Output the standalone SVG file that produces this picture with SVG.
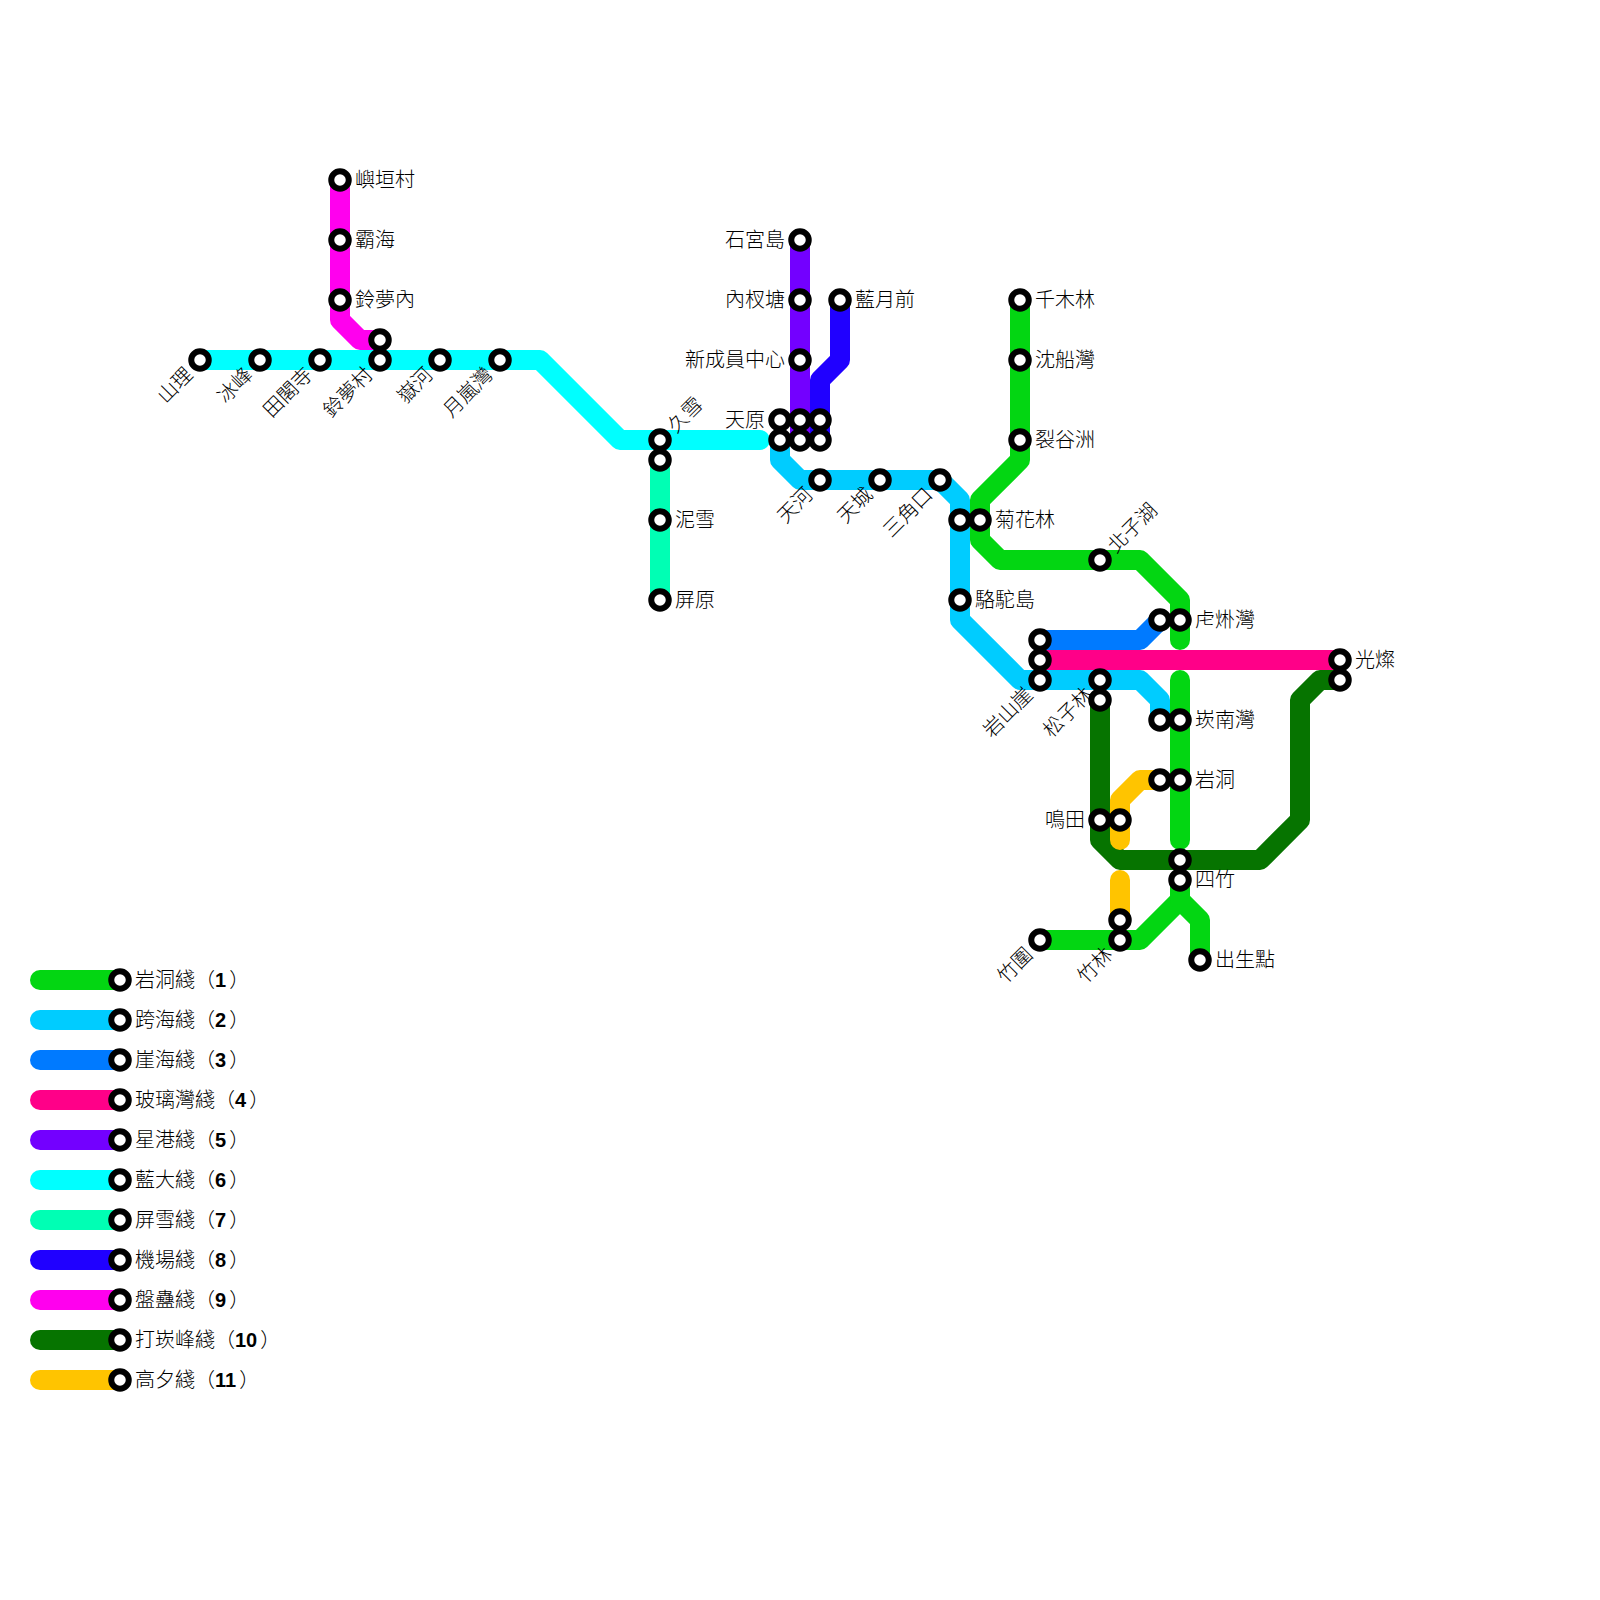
<svg xmlns="http://www.w3.org/2000/svg" width="1600" height="1600" viewBox="0 0 1600 1600">
<style>
text{font-family:"Liberation Sans","Noto Sans CJK TC",sans-serif;font-size:20px;font-weight:300;fill:#000;dominant-baseline:central}
.e{text-anchor:end}
.l{fill:none;stroke-width:20;stroke-linecap:round;stroke-linejoin:round}
.s{fill:#fff;stroke:#000;stroke-width:6}
.c1{stroke:#03d612}.c2{stroke:#00ccff}.c3{stroke:#007aff}.c4{stroke:#ff0088}.c5{stroke:#7300ff}.c6{stroke:#00ffff}.c7{stroke:#00ffb4}.c8{stroke:#2000ff}.c9{stroke:#ff00ee}.c10{stroke:#067400}.c11{stroke:#ffc400}
.n{font-family:"Liberation Sans",Arial,sans-serif;font-weight:bold}
</style>
<defs><circle id="st" class="s" r="8.75"/></defs>
<g id="connectors">
<path class="l c1" d="M1020 300V460L980 500V540L1000 560H1140L1180 600V640"/>
<path class="l c1" d="M1180 680V840"/>
<path class="l c1" d="M1040 940H1140L1180 900V880"/>
<path class="l c1" d="M1180 900L1200 920V960"/>
<path class="l c2" d="M780 440V460L800 480H940L960 500V620L1020 680H1140L1160 700V720"/>
<path class="l c3" d="M1040 640H1140L1160 620"/>
<path class="l c4" d="M1040 660H1340"/>
<path class="l c5" d="M800 240V440"/>
<path class="l c6" d="M200 360H540L620 440H760"/>
<path class="l c7" d="M660 460V600"/>
<path class="l c8" d="M840 300V360L820 380V440"/>
<path class="l c9" d="M340 180V320L360 340H380"/>
<path class="l c10" d="M1340 680H1320L1300 700V820L1260 860H1120L1100 840V700"/>
<path class="l c11" d="M1160 780H1140L1120 800V840"/>
<path class="l c11" d="M1120 880V920"/>
</g>
<g id="legend-lines">
<path class="l c1" d="M40 980H120"/><path class="l c2" d="M40 1020H120"/><path class="l c3" d="M40 1060H120"/><path class="l c4" d="M40 1100H120"/><path class="l c5" d="M40 1140H120"/><path class="l c6" d="M40 1180H120"/><path class="l c7" d="M40 1220H120"/><path class="l c8" d="M40 1260H120"/><path class="l c9" d="M40 1300H120"/><path class="l c10" d="M40 1340H120"/><path class="l c11" d="M40 1380H120"/>
</g>
<g id="stations">
<g id="n1"><use href="#st" x="340" y="180"/><text x="355" y="180">嶼垣村</text></g>
<g id="n2"><use href="#st" x="340" y="240"/><text x="355" y="240">霸海</text></g>
<g id="n3"><use href="#st" x="340" y="300"/><text x="355" y="300">鈴夢內</text></g>
<g id="n4"><use href="#st" x="380" y="340"/></g>
<g id="n5"><use href="#st" x="200" y="360"/><text class="e" transform="translate(189 371) rotate(-45)">山理</text></g>
<g id="n6"><use href="#st" x="260" y="360"/><text class="e" transform="translate(249 371) rotate(-45)">冰峰</text></g>
<g id="n7"><use href="#st" x="320" y="360"/><text class="e" transform="translate(309 371) rotate(-45)">田閣寺</text></g>
<g id="n8"><use href="#st" x="380" y="360"/><text class="e" transform="translate(369 371) rotate(-45)">鈴夢村</text></g>
<g id="n9"><use href="#st" x="440" y="360"/><text class="e" transform="translate(429 371) rotate(-45)">嶽河</text></g>
<g id="n10"><use href="#st" x="500" y="360"/><text class="e" transform="translate(489 371) rotate(-45)">月嵐灣</text></g>
<g id="n11"><use href="#st" x="660" y="440"/><text transform="translate(671 429) rotate(-45)">久雪</text></g>
<g id="n12"><use href="#st" x="660" y="460"/></g>
<g id="n13"><use href="#st" x="660" y="520"/><text x="675" y="520">泥雪</text></g>
<g id="n14"><use href="#st" x="660" y="600"/><text x="675" y="600">屏原</text></g>
<g id="n15"><use href="#st" x="800" y="240"/><text class="e" x="785" y="240">石宮島</text></g>
<g id="n16"><use href="#st" x="800" y="300"/><text class="e" x="785" y="300">內杈塘</text></g>
<g id="n17"><use href="#st" x="800" y="360"/><text class="e" x="785" y="360">新成員中心</text></g>
<g id="n18"><use href="#st" x="840" y="300"/><text x="855" y="300">藍月前</text></g>
<g id="n19"><use href="#st" x="780" y="420"/><text class="e" x="765" y="420">天原</text></g>
<g id="n20"><use href="#st" x="800" y="420"/></g>
<g id="n21"><use href="#st" x="820" y="420"/></g>
<g id="n22"><use href="#st" x="780" y="440"/></g>
<g id="n23"><use href="#st" x="800" y="440"/></g>
<g id="n24"><use href="#st" x="820" y="440"/></g>
<g id="n25"><use href="#st" x="820" y="480"/><text class="e" transform="translate(809 491) rotate(-45)">天河</text></g>
<g id="n26"><use href="#st" x="880" y="480"/><text class="e" transform="translate(869 491) rotate(-45)">天城</text></g>
<g id="n27"><use href="#st" x="940" y="480"/><text class="e" transform="translate(929 491) rotate(-45)">三角口</text></g>
<g id="n28"><use href="#st" x="960" y="520"/></g>
<g id="n29"><use href="#st" x="980" y="520"/><text x="995" y="520">菊花林</text></g>
<g id="n30"><use href="#st" x="960" y="600"/><text x="975" y="600">駱駝島</text></g>
<g id="n31"><use href="#st" x="1020" y="300"/><text x="1035" y="300">千木林</text></g>
<g id="n32"><use href="#st" x="1020" y="360"/><text x="1035" y="360">沈船灣</text></g>
<g id="n33"><use href="#st" x="1020" y="440"/><text x="1035" y="440">裂谷洲</text></g>
<g id="n34"><use href="#st" x="1100" y="560"/><text transform="translate(1111 549) rotate(-45)">北子湖</text></g>
<g id="n35"><use href="#st" x="1160" y="620"/></g>
<g id="n36"><use href="#st" x="1180" y="620"/><text x="1195" y="620">虍烞灣</text></g>
<g id="n37"><use href="#st" x="1040" y="640"/></g>
<g id="n38"><use href="#st" x="1040" y="660"/></g>
<g id="n39"><use href="#st" x="1040" y="680"/><text class="e" transform="translate(1029 691) rotate(-45)">岩山崖</text></g>
<g id="n40"><use href="#st" x="1100" y="680"/><text class="e" transform="translate(1089 691) rotate(-45)">松子林</text></g>
<g id="n41"><use href="#st" x="1100" y="700"/></g>
<g id="n42"><use href="#st" x="1160" y="720"/></g>
<g id="n43"><use href="#st" x="1180" y="720"/><text x="1195" y="720">崁南灣</text></g>
<g id="n44"><use href="#st" x="1340" y="660"/><text x="1355" y="660">光燦</text></g>
<g id="n45"><use href="#st" x="1340" y="680"/></g>
<g id="n46"><use href="#st" x="1160" y="780"/></g>
<g id="n47"><use href="#st" x="1180" y="780"/><text x="1195" y="780">岩洞</text></g>
<g id="n48"><use href="#st" x="1100" y="820"/><text class="e" x="1085" y="820">鳴田</text></g>
<g id="n49"><use href="#st" x="1120" y="820"/></g>
<g id="n50"><use href="#st" x="1180" y="860"/></g>
<g id="n51"><use href="#st" x="1180" y="880"/><text x="1195" y="880">四竹</text></g>
<g id="n52"><use href="#st" x="1120" y="920"/></g>
<g id="n53"><use href="#st" x="1120" y="940"/><text class="e" transform="translate(1109 951) rotate(-45)">竹林</text></g>
<g id="n54"><use href="#st" x="1040" y="940"/><text class="e" transform="translate(1029 951) rotate(-45)">竹圍</text></g>
<g id="n55"><use href="#st" x="1200" y="960"/><text x="1215" y="960">出生點</text></g>
</g>
<g id="legend">
<g id="lg1"><use href="#st" x="120" y="980"/><text x="135" y="980">岩洞綫（<tspan class="n">1</tspan><tspan dx="3">）</tspan></text></g>
<g id="lg2"><use href="#st" x="120" y="1020"/><text x="135" y="1020">跨海綫（<tspan class="n">2</tspan><tspan dx="3">）</tspan></text></g>
<g id="lg3"><use href="#st" x="120" y="1060"/><text x="135" y="1060">崖海綫（<tspan class="n">3</tspan><tspan dx="3">）</tspan></text></g>
<g id="lg4"><use href="#st" x="120" y="1100"/><text x="135" y="1100">玻璃灣綫（<tspan class="n">4</tspan><tspan dx="3">）</tspan></text></g>
<g id="lg5"><use href="#st" x="120" y="1140"/><text x="135" y="1140">星港綫（<tspan class="n">5</tspan><tspan dx="3">）</tspan></text></g>
<g id="lg6"><use href="#st" x="120" y="1180"/><text x="135" y="1180">藍大綫（<tspan class="n">6</tspan><tspan dx="3">）</tspan></text></g>
<g id="lg7"><use href="#st" x="120" y="1220"/><text x="135" y="1220">屏雪綫（<tspan class="n">7</tspan><tspan dx="3">）</tspan></text></g>
<g id="lg8"><use href="#st" x="120" y="1260"/><text x="135" y="1260">機場綫（<tspan class="n">8</tspan><tspan dx="3">）</tspan></text></g>
<g id="lg9"><use href="#st" x="120" y="1300"/><text x="135" y="1300">盤蠱綫（<tspan class="n">9</tspan><tspan dx="3">）</tspan></text></g>
<g id="lg10"><use href="#st" x="120" y="1340"/><text x="135" y="1340">打崁峰綫（<tspan class="n">10</tspan><tspan dx="3">）</tspan></text></g>
<g id="lg11"><use href="#st" x="120" y="1380"/><text x="135" y="1380">高夕綫（<tspan class="n">11</tspan><tspan dx="3">）</tspan></text></g>
</g>
</svg>
